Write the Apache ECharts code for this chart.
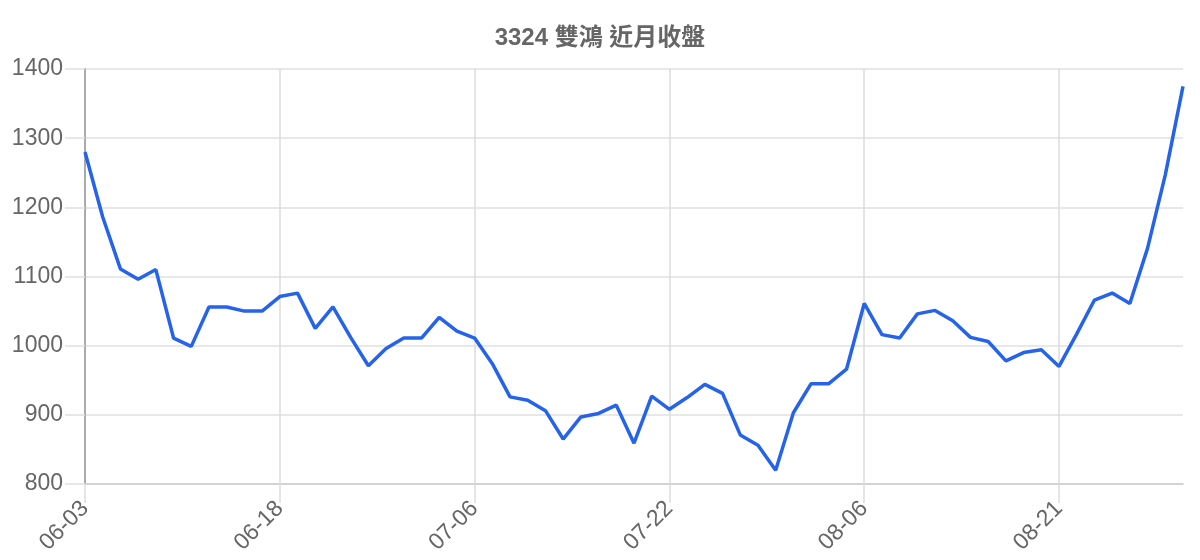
<!DOCTYPE html>
<html lang="zh-Hant">
<head>
    <meta charset="UTF-8" />
    <title>3324 雙鴻 近月收盤</title>
    <script src="https://cdn.jsdelivr.net/npm/echarts@6/dist/echarts.min.js"></script>
    <style>
        html, body { margin: 0; padding: 0; background: #fff; }
        #chart { width: 1200px; height: 560px; }
    </style>
</head>
<body>
    <div id="chart"></div>
    <script type="text/javascript">
        // trading days (MM-DD)
        const dates = [
            "06-03", "06-04", "06-05", "06-06", "06-07", "06-10", "06-11", "06-12", "06-13", "06-14",
            "06-17", "06-18", "06-19", "06-20", "06-24", "06-25", "06-26", "06-27", "06-28", "07-01",
            "07-02", "07-03", "07-06", "07-07", "07-08", "07-09", "07-10", "07-13", "07-14", "07-15",
            "07-16", "07-17", "07-20", "07-22", "07-23", "07-24", "07-27", "07-28", "07-29", "07-30",
            "07-31", "08-03", "08-04", "08-05", "08-06", "08-07", "08-10", "08-11", "08-12", "08-13",
            "08-14", "08-17", "08-18", "08-19", "08-20", "08-21", "08-24", "08-25", "08-26", "08-27",
            "08-28", "08-31", "09-01"
        ];
        // near-month close
        const closes = [
            1280, 1186, 1111, 1096, 1110, 1011, 999, 1056, 1056, 1050,
            1050, 1071, 1076, 1025, 1056, 1012, 971, 996, 1011, 1011,
            1041, 1021, 1011, 974, 926, 921, 906, 865, 897, 902,
            914, 859, 927, 908, 925, 944, 931, 871, 856, 820,
            903, 945, 945, 966, 1061, 1016, 1011, 1046, 1051, 1036,
            1012, 1006, 978, 990, 994, 970, 1017, 1066, 1076, 1061,
            1141, 1247, 1375
        ];
        const yTicks = [800, 900, 1000, 1100, 1200, 1300, 1400];

        const font = '"Liberation Sans", Arial, "Noto Sans CJK TC", sans-serif';
        const chart = echarts.init(document.getElementById("chart"), null, { renderer: "canvas" });

        chart.setOption({
            animation: false,
            title: {
                text: "3324 雙鴻 近月收盤",
                left: "center",
                top: 21,
                textStyle: { color: "#666", fontSize: 24, fontWeight: "bold", fontFamily: font }
            },
            grid: { left: 85, right: 17, top: 69, bottom: 76 },
            xAxis: {
                type: "category",
                data: dates,
                boundaryGap: false,
                axisLine: { show: true, lineStyle: { color: "#ccc", width: 1.5 } },
                axisTick: { show: true, interval: 10, length: 19, lineStyle: { color: "#ddd", width: 1.5 } },
                splitLine: { show: true, interval: 10, lineStyle: { color: "#ddd", width: 1.5 } },
                axisLabel: {
                    interval: 10,
                    rotate: 45,
                    margin: 21,
                    color: "#666",
                    fontSize: 23,
                    fontFamily: font
                }
            },
            yAxis: {
                type: "value",
                min: yTicks[0],
                max: yTicks[yTicks.length - 1],
                interval: 100,
                axisLine: { show: true, lineStyle: { color: "#aaa", width: 2 } },
                axisTick: { show: true, length: 20, lineStyle: { color: "#e0e0e0", width: 1.5 } },
                splitLine: { show: true, lineStyle: { color: "#e0e0e0", width: 1.5 } },
                axisLabel: {
                    margin: 22,
                    color: "#666",
                    fontSize: 23,
                    fontFamily: font,
                    formatter: (v) => String(v)
                }
            },
            series: [{
                type: "line",
                data: closes,
                showSymbol: false,
                lineStyle: { color: "#2563eb", width: 3.5 },
                itemStyle: { color: "#2563eb" }
            }]
        });
    </script>
</body>
</html>
